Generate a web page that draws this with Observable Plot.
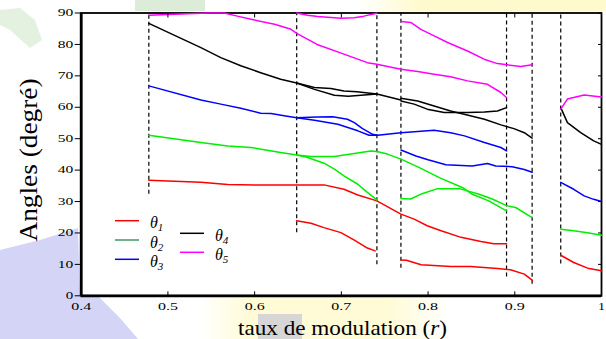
<!DOCTYPE html>
<html>
<head>
<meta charset="utf-8">
<script src="https://cdn.jsdelivr.net/npm/d3@7"></script>
<script src="https://cdn.jsdelivr.net/npm/@observablehq/plot@0.6"></script>
<style>
  html, body { margin: 0; padding: 0; background: #ffffff; }
  #chart { width: 606px; height: 339px; position: relative; overflow: hidden; }
  #chart svg { position: absolute; left: 0; top: 0; }
  .bg { position: absolute; }
</style>
</head>
<body>
<div id="chart">
  <!-- faint watermark tints behind the figure, as in the scanned reference -->
  <div class="bg" style="left:0;top:0;width:606px;height:339px;background:#d4d4f7;clip-path:polygon(0 250px, 40px 240px, 78px 228px, 80px 296px, 98px 296px, 120px 318px, 138px 339px, 0 339px);"></div>
  <div class="bg" style="left:200px;top:297px;width:250px;height:42px;background:linear-gradient(90deg, rgba(255,251,214,0) 0%, #fffbd6 20%, #fffbd6 75%, rgba(255,251,214,0) 100%);"></div>
  <div class="bg" style="left:258px;top:314px;width:44px;height:25px;background:#d6d6d6;"></div>
  <div class="bg" style="left:358px;top:0;width:248px;height:11px;background:linear-gradient(90deg, rgba(255,250,205,0) 0%, #fffacd 25%, #fffacd 100%);"></div>
  <div class="bg" style="left:0;top:0;width:60px;height:55px;background:#e4f1e1;clip-path:polygon(0 10px, 20px 8px, 35px 20px, 42px 40px, 30px 48px, 10px 30px, 0 25px);"></div>
  <div class="bg" style="left:135px;top:0;width:70px;height:11px;background:#dcecd8;"></div>
</div>
<script>
// ---- data ----
const seriesNames = ["θ1", "θ2", "θ3", "θ4", "θ5"];
const seriesSubs = ["1", "2", "3", "4", "5"];
const seriesColors = ["#ff0000", "#00ee00", "#0000ff", "#000000", "#ff00ff"];
const legendColors = ["#ff0000", "#3c9a64", "#0000ff", "#000000", "#ff00ff"];

const xDomain = [0.4, 1];
const yDomain = [0, 90];
const xTicks = [0.4, 0.5, 0.6, 0.7, 0.8, 0.9, 1];
const xTickLabels = ["0.4", "0.5", "0.6", "0.7", "0.8", "0.9", "1"];
const yTicks = [0, 10, 20, 30, 40, 50, 60, 70, 80, 90];
const yTickLabels = ["0", "10", "20", "30", "40", "50", "60", "70", "80", "90"];

const xLabelText = "taux de modulation (";
const xLabelVar = "r";
const yLabelText = "Angles (degré)";

// interval boundaries (dashed lines): r and lower end of the dash
const dashR = [0.478, 0.6485, 0.741, 0.7687, 0.8905, 0.920, 0.953];
const dashLow = [32.3, 20.1, 9.9, 8.8, 6.0, 3.7, 10.1];

// θ1 (red): segments of [r, angle]
const theta1 = [
  [[0.478,36.8],[0.50,36.5],[0.538,36.1],[0.569,35.4],[0.60,35.3],[0.6485,35.3],[0.68,35.3],[0.703,33.9],[0.719,32.1],[0.741,30.2],[0.7687,26.0],[0.784,24.4],[0.799,22.3],[0.815,20.7],[0.838,18.6],[0.861,17.3],[0.876,16.6],[0.8905,16.6]],
  [[0.6485,23.9],[0.665,23.1],[0.68,21.7],[0.6995,20.1],[0.715,17.7],[0.730,15.2],[0.739,14.3]],
  [[0.7687,11.4],[0.775,11.3],[0.792,9.9],[0.826,9.3],[0.849,9.3],[0.880,8.7],[0.895,8.3],[0.911,6.9],[0.920,5.0]],
  [[0.953,12.9],[0.968,10.6],[0.984,8.8],[1.0,8.0]]
];
// θ2 (green)
const theta2 = [
  [[0.478,51.1],[0.538,48.8],[0.569,47.7],[0.596,47.2],[0.623,45.9],[0.630,45.6],[0.6485,44.8],[0.665,44.3],[0.692,44.3],[0.711,45.1],[0.734,46.1],[0.741,45.9],[0.753,45.1],[0.7687,43.5],[0.790,40.8],[0.813,37.6],[0.84,34.4],[0.851,32.3],[0.870,30.2],[0.8905,27.0]],
  [[0.6485,44.8],[0.661,44.0],[0.68,42.2],[0.692,40.3],[0.703,38.2],[0.719,35.5],[0.730,32.9],[0.741,30.5]],
  [[0.7687,31.0],[0.780,30.8],[0.793,32.5],[0.811,34.1],[0.836,34.1],[0.859,32.3],[0.874,30.8],[0.8905,28.7],[0.901,28.1],[0.920,24.9]],
  [[0.953,21.2],[0.968,20.7],[0.984,20.1],[1.0,19.3]]
];
// θ3 (blue)
const theta3 = [
  [[0.478,66.8],[0.538,62.3],[0.561,61.0],[0.584,59.7],[0.607,58.1],[0.619,58.0],[0.634,57.3],[0.6485,56.7],[0.669,55.9],[0.696,54.6],[0.719,52.5],[0.732,51.1],[0.742,51.1],[0.7687,51.9],[0.788,52.3],[0.807,52.7],[0.826,51.9],[0.842,50.9],[0.865,48.8],[0.884,47.2],[0.8905,46.1]],
  [[0.6485,56.7],[0.672,56.9],[0.69,57.0],[0.707,56.2],[0.715,55.1],[0.724,53.3],[0.736,51.4],[0.741,51.1]],
  [[0.7687,46.4],[0.786,44.5],[0.80,43.3],[0.8205,41.7],[0.851,41.3],[0.8685,42.1],[0.878,41.3],[0.897,41.1],[0.911,40.2],[0.920,39.3]],
  [[0.953,36.1],[0.968,33.9],[0.98,31.8],[0.991,30.7],[1.0,30.0]]
];
// θ4 (black)
const theta4 = [
  [[0.478,86.7],[0.538,79.0],[0.561,75.8],[0.584,73.2],[0.607,71.0],[0.630,68.9],[0.6485,67.7],[0.669,66.3],[0.688,66.0],[0.703,65.2],[0.718,64.9],[0.741,64.2],[0.7687,62.3]],
  [[0.6485,67.7],[0.669,65.7],[0.692,63.8],[0.708,63.5],[0.7226,63.8],[0.741,64.2]],
  [[0.7687,62.0],[0.784,61.0],[0.799,59.4],[0.8186,58.3],[0.8455,58.3],[0.865,58.5],[0.880,58.8],[0.8905,59.9]],
  [[0.7687,62.9],[0.788,62.0],[0.807,60.4],[0.826,58.8],[0.8416,57.8],[0.865,56.2],[0.884,54.4],[0.899,53.2],[0.911,51.9],[0.920,50.2]],
  [[0.953,59.9],[0.9607,55.1],[0.976,51.9],[0.991,49.3],[1.0,48.2]]
];
// θ5 (magenta)
const theta5 = [
  [[0.478,89.3],[0.508,89.6],[0.546,90.0],[0.565,90.0],[0.58,89.0],[0.596,88.0],[0.623,86.4],[0.642,84.8],[0.6485,83.5],[0.672,80.0],[0.703,76.9],[0.730,74.2],[0.741,73.7],[0.7687,72.1],[0.788,71.4],[0.807,70.5],[0.826,69.7],[0.8455,68.4],[0.8685,67.3],[0.884,64.7],[0.8905,63.1]],
  [[0.6485,90.0],[0.661,89.3],[0.6727,88.9],[0.6995,88.3],[0.7149,88.5],[0.726,89.0],[0.741,89.9]],
  [[0.7687,87.3],[0.780,87.0],[0.7917,84.8],[0.807,82.7],[0.8225,80.6],[0.8455,77.9],[0.8646,75.3],[0.880,73.9],[0.8916,73.5],[0.907,73.0],[0.920,73.5]],
  [[0.953,59.4],[0.9607,62.6],[0.98,63.9],[1.0,63.3]]
];

// ---- tables built from the arrays ----
const allSeries = [theta1, theta2, theta3, theta4, theta5];
const rows = [];
allSeries.forEach((segs, si) => segs.forEach((seg, k) => seg.forEach(([r, a]) =>
  rows.push({r, angle: a, series: seriesNames[si], id: si + "-" + k}))));
const dashRows = dashR.map((r, i) => ({r, low: dashLow[i]}));

const serif = "'Liberation Serif', 'Times New Roman', serif";

const chart = Plot.plot({
  width: 606,
  height: 339,
  marginLeft: 80.7,
  marginRight: 5,
  marginTop: 12.5,
  marginBottom: 43.7,
  style: {fontFamily: serif, fontSize: "10px", color: "black", background: "transparent", overflow: "visible"},
  x: {domain: xDomain},
  y: {domain: yDomain},
  color: {domain: seriesNames, range: seriesColors},
  marks: [
    Plot.frame({fill: "white", stroke: "black", strokeWidth: 1.8}),
    Plot.ruleX([xDomain[0]], {stroke: "black", strokeWidth: 2.8}),
    Plot.ruleY([yDomain[0]], {stroke: "black", strokeWidth: 2.8}),
    Plot.ruleX(dashRows, {x: "r", y1: "low", y2: yDomain[1], stroke: "black", strokeWidth: 1.2, strokeDasharray: "4,3"}),
    Plot.line(rows, {x: "r", y: "angle", z: "id", stroke: "series", strokeWidth: 1.5, strokeLinejoin: "round"}),
    // left axis: outward ticks + labels
    Plot.axisY({ticks: yTicks, tickFormat: (d, i) => yTickLabels[i], tickSize: 6, tickPadding: 2, label: null, strokeWidth: 1}),
    // right axis: inward ticks
    Plot.axisY({anchor: "right", ticks: yTicks, tickSize: 4, dx: -4, fill: "none", label: null}),
    // bottom axis: labels + inward ticks
    Plot.axisX({ticks: xTicks, tickFormat: (d, i) => xTickLabels[i], tickSize: 0, tickPadding: 7, label: null}),
    Plot.axisX({ticks: xTicks, tickSize: 4, dy: -4, fill: "none", label: null}),
    // top: inward ticks
    Plot.axisX({anchor: "top", ticks: xTicks, tickSize: 4, dy: 4, fill: "none", label: null})
  ]
});

document.getElementById("chart").appendChild(chart);

// stretch tick labels as in the reference (wide glyphs)
const svg = d3.select(chart);
svg.selectAll('g[aria-label="x-axis tick label"] text').each(function() {
  const t = this.textContent;
  d3.select(this).attr("textLength", t.length > 1 ? 20 : 7).attr("lengthAdjust", "spacingAndGlyphs");
});
svg.selectAll('g[aria-label="y-axis tick label"] text').each(function() {
  const t = this.textContent;
  d3.select(this).attr("textLength", t.length > 1 ? 15.5 : 7.5).attr("lengthAdjust", "spacingAndGlyphs");
});

// axis titles
const xl = svg.append("text")
  .attr("x", 238).attr("y", 335)
  .attr("text-anchor", "start")
  .attr("font-family", serif).attr("font-size", 22).attr("fill", "black")
  .attr("textLength", 209).attr("lengthAdjust", "spacingAndGlyphs");
xl.append("tspan").text(xLabelText);
xl.append("tspan").attr("font-style", "italic").text(xLabelVar);
xl.append("tspan").text(")");

svg.append("text")
  .attr("transform", "translate(36.5,160) rotate(-90)")
  .attr("text-anchor", "middle")
  .attr("font-family", serif).attr("font-size", 25).attr("fill", "black")
  .attr("textLength", 163).attr("lengthAdjust", "spacingAndGlyphs")
  .text(yLabelText);

// legend (two columns)
const legendPos = [
  {x: 115, y: 220.7}, {x: 115, y: 240}, {x: 115, y: 259.3},
  {x: 180, y: 233.3}, {x: 180, y: 252.3}
];
const lg = svg.append("g").attr("aria-label", "legend");
seriesNames.forEach((name, i) => {
  const p = legendPos[i];
  lg.append("line")
    .attr("x1", p.x).attr("x2", p.x + 24).attr("y1", p.y).attr("y2", p.y)
    .attr("stroke", legendColors[i]).attr("stroke-width", 1.5);
  const t = lg.append("text")
    .attr("x", p.x + 35).attr("y", p.y + 7.5)
    .attr("text-anchor", "start")
    .attr("font-family", serif).attr("font-style", "italic").attr("font-size", 16).attr("fill", "black");
  t.append("tspan").text(name.slice(0, 1));
  t.append("tspan").attr("font-size", 11).attr("dy", 3).text(seriesSubs[i]);
});
</script>
</body>
</html>
